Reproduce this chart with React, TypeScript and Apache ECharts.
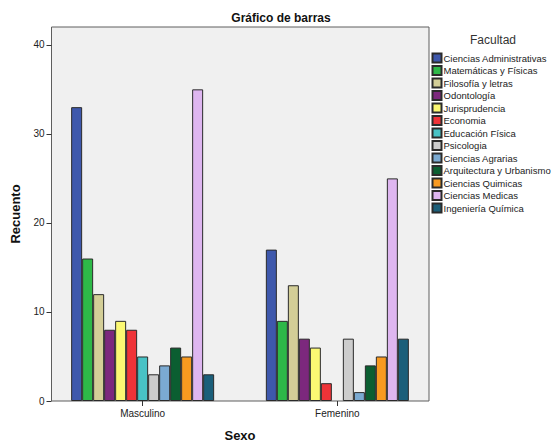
import React, { useEffect, useRef } from "react";
import * as echarts from "echarts";

const categories = ["Masculino", "Femenino"];
const facultades = [
  "Ciencias Administrativas",
  "Matemáticas y Físicas",
  "Filosofía y letras",
  "Odontología",
  "Jurisprudencia",
  "Economia",
  "Educación Física",
  "Psicologia",
  "Ciencias Agrarias",
  "Arquitectura y Urbanismo",
  "Ciencias Quimicas",
  "Ciencias Medicas",
  "Ingeniería Química",
];
const masculino = [33, 16, 12, 8, 9, 8, 5, 3, 4, 6, 5, 35, 3];
const femenino = [17, 9, 13, 7, 6, 2, null, 7, 1, 4, 5, 25, 7];
const colors = [
  "#3E58AC",
  "#2EB848",
  "#D3CE97",
  "#7C287D",
  "#FBF873",
  "#EF3338",
  "#48C2C5",
  "#CCCCCC",
  "#7BAAD2",
  "#0B5E31",
  "#F89A20",
  "#DEB6F0",
  "#1B5F7A",
];
const yTicks = [0, 10, 20, 30, 40];

const FONT = 'Arial, "Liberation Sans", sans-serif';

export default function App() {
  const ref = useRef<HTMLDivElement>(null);
  useEffect(() => {
    document.body.style.margin = "0";
    const chart = echarts.init(ref.current!, null, { renderer: "svg" });
    const series = facultades.map((name, i) => ({
      name,
      type: "bar",
      xAxisIndex: 1,
      yAxisIndex: 1,
      barWidth: 11,
      barGap: "0%",
      data: [masculino[i], femenino[i]],
      itemStyle: { color: colors[i], borderColor: "#2a2a2a", borderWidth: 1 },
    }));
    chart.setOption({
      animation: false,
      backgroundColor: "#ffffff",
      title: {
        text: "Gráfico de barras",
        left: 276,
        textAlign: "center",
        top: 7,
        textStyle: { fontFamily: FONT, fontSize: 12, fontWeight: "bold", color: "#111" },
      },
      legend: {
        orient: "vertical",
        left: 431.5,
        top: 52.5,
        itemWidth: 9,
        itemHeight: 9,
        itemGap: 1.5,
        padding: 0,
        icon: "rect",
        data: facultades,
        textStyle: {
          fontFamily: FONT,
          fontSize: 9.5,
          lineHeight: 10,
          color: "#222",
          padding: [0, 0, 0, -3],
        },
      },
      graphic: [
        {
          type: "text",
          x: 493,
          y: 40,
          style: {
            text: "Facultad",
            fontFamily: FONT,
            fontSize: 12,
            fill: "#333",
            align: "center",
            verticalAlign: "middle",
          },
        },
      ],
      grid: [
        {
          left: 51.5,
          top: 27,
          width: 377.5,
          height: 374,
          show: true,
          backgroundColor: "#f0f0f0",
          borderColor: "#5e5e5e",
          borderWidth: 1,
          outerBoundsMode: "none",
          containLabel: false,
        },
        {
          left: 45.3,
          top: 27,
          width: 389.4,
          height: 374,
          outerBoundsMode: "none",
          containLabel: false,
        },
      ],
      xAxis: [
        {
          gridIndex: 0,
          type: "category",
          data: categories,
          show: false,
        },
        {
          gridIndex: 1,
          type: "category",
          data: categories,
          axisLine: { show: false },
          axisTick: { show: true, length: 5, alignWithLabel: true, lineStyle: { color: "#333" } },
          axisLabel: { fontFamily: FONT, fontSize: 10, color: "#222", margin: 7 },
          name: "Sexo",
          nameLocation: "middle",
          nameGap: 28,
          nameTextStyle: { fontFamily: FONT, fontSize: 13, fontWeight: "bold", color: "#111" },
        },
      ],
      yAxis: [
        {
          gridIndex: 0,
          type: "value",
          min: 0,
          max: 42,
          interval: 10,
          axisLine: { show: false },
          axisTick: { show: true, length: 5, lineStyle: { color: "#333" } },
          splitLine: { show: false },
          axisLabel: {
            fontFamily: FONT,
            fontSize: 10,
            color: "#222",
            margin: 7,
            showMaxLabel: false,
            formatter: (v: number) => (yTicks.includes(v) ? String(v) : ""),
          },
          name: "Recuento",
          nameLocation: "middle",
          nameGap: 28,
          nameTextStyle: { fontFamily: FONT, fontSize: 13, fontWeight: "bold", color: "#111" },
        },
        {
          gridIndex: 1,
          type: "value",
          min: 0,
          max: 42,
          show: false,
          splitLine: { show: false },
        },
      ],
      series,
    });
    return () => chart.dispose();
  }, []);
  return <div ref={ref} style={{ width: 552, height: 444 }} />;
}
